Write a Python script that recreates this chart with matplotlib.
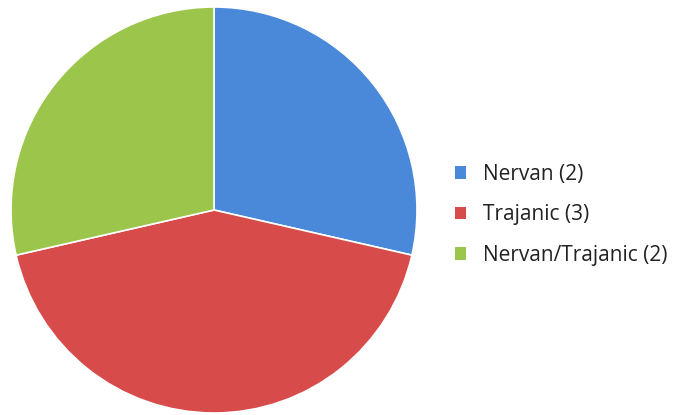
import matplotlib.pyplot as plt
from matplotlib.patches import Patch

labels = ["Nervan (2)", "Trajanic (3)", "Nervan/Trajanic (2)"]
counts = [2, 3, 2]
colors = ["#4a89d9", "#d74b4b", "#9cc64b"]

plt.rcParams['font.family'] = ['Open Sans', 'DejaVu Sans']

fig = plt.figure(figsize=(6.76, 4.15), dpi=100)
ax = fig.add_axes([11 / 676, 2 / 415, 406 / 676, 406 / 415])
ax.pie(counts, colors=colors, startangle=90, counterclock=False, radius=1.0,
       wedgeprops=dict(edgecolor="white", linewidth=1.2))
ax.set_xlim(-1.0, 1.0)
ax.set_ylim(-1.0, 1.0)
ax.set_aspect("equal")

handles = [Patch(facecolor=c, edgecolor="none") for c in colors]
fig.legend(handles, labels, loc="center left", bbox_to_anchor=(455 / 676, 0.482),
           frameon=False, fontsize=15, handlelength=0.55, handleheight=0.55,
           handletextpad=0.8, labelspacing=0.94, borderpad=0, borderaxespad=0,
           labelcolor="#222222")

fig.savefig("out.png", dpi=100)
